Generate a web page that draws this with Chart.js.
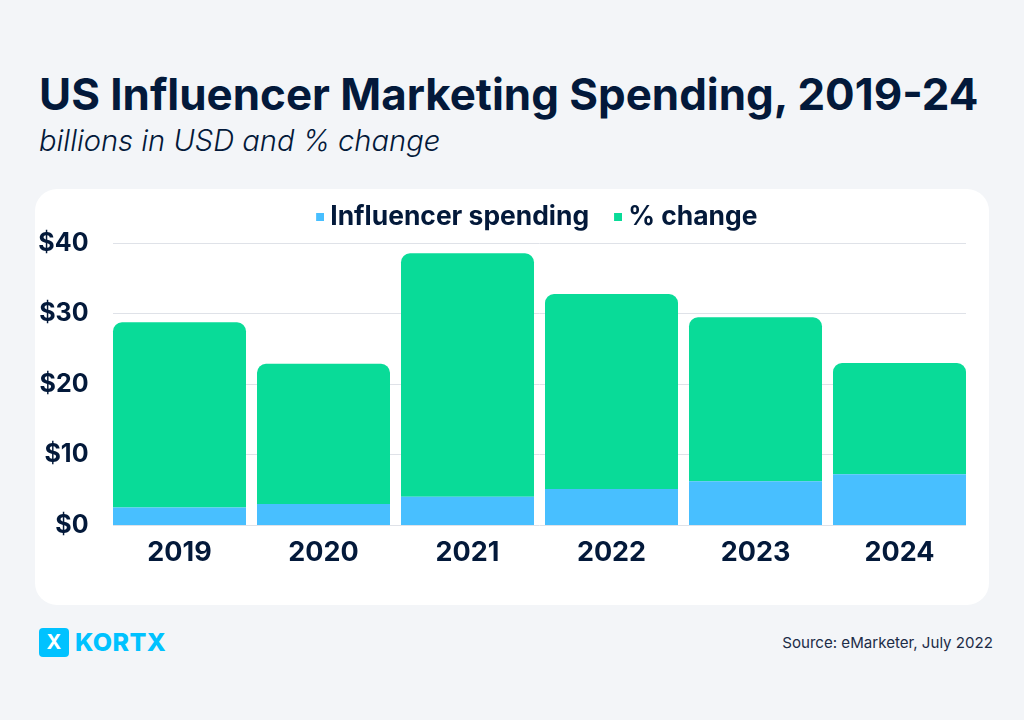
<!DOCTYPE html>
<html lang="en">
<head>
<meta charset="UTF-8">
<title>US Influencer Marketing Spending, 2019-24</title>
<script src="https://cdn.jsdelivr.net/npm/chart.js@4.4.1/dist/chart.umd.min.js"></script>
<style>
  html, body { margin: 0; width: 1024px; height: 720px; overflow: hidden; background: #f3f5f8; color: #03193a; font-family: Inter, sans-serif; }
  h1 { position: absolute; left: 39px; top: 66px; margin: 0; font-size: 43.9px; line-height: 56px; font-weight: 700; white-space: nowrap; }
  h2 { position: absolute; left: 39px; top: 122px; margin: 0; font-size: 29.1px; line-height: 38px; font-weight: 300; font-style: italic; white-space: nowrap; }
  #card { position: absolute; left: 35px; top: 189px; width: 954px; height: 416px; background: #fff; border-radius: 22px; }
  #logo { position: absolute; left: 39px; top: 628px; width: 30px; height: 29px; border-radius: 4px; background: #00c2ff; color: #fff; font: 700 20px/29px Inter, sans-serif; text-align: center; }
  #brand { position: absolute; left: 75px; top: 626px; font: 800 25px/33px Inter, sans-serif; color: #00c2ff; letter-spacing: 0.4px; }
  #source { position: absolute; right: 31px; top: 633px; font: 400 15.1px/20px Inter, sans-serif; color: #1c2c47; white-space: nowrap; }
</style>
</head>
<body>
  <h1>US Influencer Marketing Spending, 2019-24</h1>
  <h2>billions in USD and % change</h2>
  <div id="card"><canvas id="chart" width="954" height="416"></canvas></div>
  <div id="logo">X</div>
  <div id="brand">KORTX</div>
  <div id="source">Source: eMarketer, July 2022</div>

<script>
  const years = ['2019', '2020', '2021', '2022', '2023', '2024'];
  const spending = [2.5, 3.0, 4.0, 5.1, 6.2, 7.2];
  const change = [26.3, 19.9, 34.6, 27.7, 23.3, 15.8];
  const spendingColor = '#48bfff';
  const changeColor = '#09db98';
  const ink = '#03193a';

  // square marker sits at the right of the image so it ends up closer to the label
  function marker(color) {
    const c = document.createElement('canvas');
    c.width = 22;
    c.height = 8;
    const g = c.getContext('2d');
    g.fillStyle = color;
    g.fillRect(14, 0, 8, 8);
    return c;
  }

  // grid stops at the outer edges of the first and last bar
  const insetGrid = {
    id: 'insetGrid',
    afterLayout(chart) {
      // legend is centred over the bars, and sits a bit higher than its box
      chart.legend.left += 60;
      chart.legend.top -= 3;
    },
    beforeDatasetsDraw(chart) {
      const { ctx, scales } = chart;
      const x = scales.x, y = scales.y;
      const left = x.getPixelForValue(0) - 66.5;
      const right = x.getPixelForValue(years.length - 1) + 66.5;
      ctx.save();
      ctx.strokeStyle = '#dfe2e8';
      ctx.lineWidth = 1;
      y.ticks.forEach(t => {
        const py = Math.floor(y.getPixelForValue(t.value)) + 0.5;
        ctx.beginPath();
        ctx.moveTo(left, py);
        ctx.lineTo(right, py);
        ctx.stroke();
      });
      ctx.restore();
    }
  };

  new Chart(document.getElementById('chart'), {
    type: 'bar',
    plugins: [insetGrid],
    data: {
      labels: years,
      datasets: [
        { label: 'Influencer spending', data: spending, backgroundColor: spendingColor, pointStyle: marker(spendingColor) },
        { label: '% change', data: change, backgroundColor: changeColor, pointStyle: marker(changeColor),
          borderRadius: { topLeft: 9, topRight: 9 } }
      ]
    },
    options: {
      responsive: false,
      animation: false,
      barPercentage: 133 / 144,
      categoryPercentage: 1,
      layout: { padding: { left: 0, right: 17.5, top: 0, bottom: 0 } },
      plugins: {
        tooltip: { enabled: false },
        legend: {
          position: 'top',
          labels: {
            usePointStyle: true,
            boxWidth: 8,
            boxHeight: 8,
            padding: 18,
            color: ink,
            font: { family: 'Inter', size: 26.4, weight: '700' },
            generateLabels(chart) {
              return chart.data.datasets.map((d, i) => ({
                text: d.label, datasetIndex: i, pointStyle: d.pointStyle, fontColor: ink, lineWidth: 0
              }));
            }
          }
        }
      },
      scales: {
        x: {
          stacked: true,
          afterFit(s) { s.height = 80; },
          grid: { display: false },
          border: { display: false },
          ticks: { color: ink, padding: 4, maxRotation: 0, font: { family: 'Inter', size: 27, weight: '700' } }
        },
        y: {
          stacked: true,
          min: 0,
          max: 40,
          afterFit(s) { s.width = 72.5; },
          grid: { display: false },
          border: { display: false },
          ticks: { stepSize: 10, color: ink, padding: 11, callback: v => '$' + v, font: { family: 'Inter', size: 25, weight: '700' } }
        }
      }
    }
  });
</script>
</body>
</html>
